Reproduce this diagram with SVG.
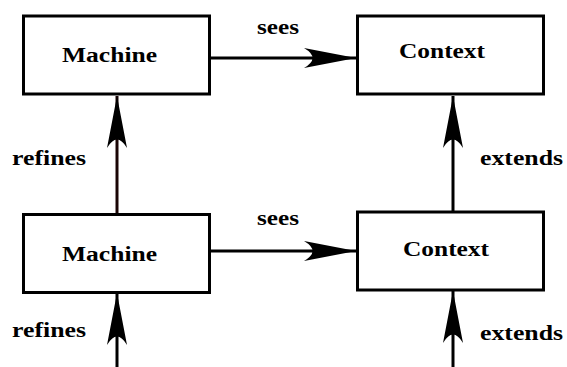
<svg xmlns="http://www.w3.org/2000/svg" width="567" height="367" viewBox="0 0 567 367">
<style>
.box{fill:#fff;stroke:#000;stroke-width:3}
.lbl{font-family:"Liberation Serif","Times New Roman",serif;font-weight:bold;font-size:20px;fill:#000}
.ln{stroke:#000;stroke-width:3;fill:none}
</style>
<defs>
<marker id="ah" viewBox="0 0 54 22" refX="52" refY="11" markerWidth="54" markerHeight="22" markerUnits="userSpaceOnUse" orient="auto">
<path d="M52,11 L0,1 Q17,11 0,21 Z" fill="#000"/>
</marker>
</defs>
<rect width="567" height="367" fill="#fff"/>
<g id="connectors">
<line class="ln" x1="210" y1="58" x2="356" y2="58" marker-end="url(#ah)"/>
<line class="ln" x1="210" y1="251" x2="356" y2="251" marker-end="url(#ah)"/>
<line class="ln" x1="117" y1="214" x2="117" y2="96" stroke="#1a0505" style="stroke:#1a0505" marker-end="url(#ah)"/>
<line class="ln" x1="453" y1="212" x2="453" y2="96" marker-end="url(#ah)"/>
<line class="ln" x1="117" y1="367" x2="117" y2="293" marker-end="url(#ah)"/>
<line class="ln" x1="453" y1="367" x2="453" y2="291" marker-end="url(#ah)"/>
<rect x="115.5" y="291" width="3" height="2" fill="#e00"/>
<rect x="451.5" y="289" width="3" height="2" fill="#e00"/>
<text class="lbl" x="257" y="34" textLength="42" lengthAdjust="spacingAndGlyphs">sees</text>
<text class="lbl" x="257" y="225" textLength="42" lengthAdjust="spacingAndGlyphs">sees</text>
<text class="lbl" x="12" y="165" textLength="74" lengthAdjust="spacingAndGlyphs">refines</text>
<text class="lbl" x="12" y="337" textLength="74" lengthAdjust="spacingAndGlyphs">refines</text>
<text class="lbl" x="480" y="165" textLength="83" lengthAdjust="spacingAndGlyphs">extends</text>
<text class="lbl" x="480" y="340" textLength="83" lengthAdjust="spacingAndGlyphs">extends</text>
</g>
<g id="machine1">
<rect class="box" x="23.5" y="16" width="186" height="78"/>
<text class="lbl" x="62" y="62" textLength="95" lengthAdjust="spacingAndGlyphs">Machine</text>
</g>
<g id="context1">
<rect class="box" x="357.5" y="16" width="186" height="78"/>
<text class="lbl" x="399" y="58" textLength="86" lengthAdjust="spacingAndGlyphs">Context</text>
</g>
<g id="machine2">
<rect class="box" x="23.5" y="214.5" width="186" height="78"/>
<text class="lbl" x="62" y="261" textLength="95" lengthAdjust="spacingAndGlyphs">Machine</text>
</g>
<g id="context2">
<rect class="box" x="357.5" y="212" width="186" height="78"/>
<text class="lbl" x="403" y="256" textLength="86" lengthAdjust="spacingAndGlyphs">Context</text>
</g>
</svg>
